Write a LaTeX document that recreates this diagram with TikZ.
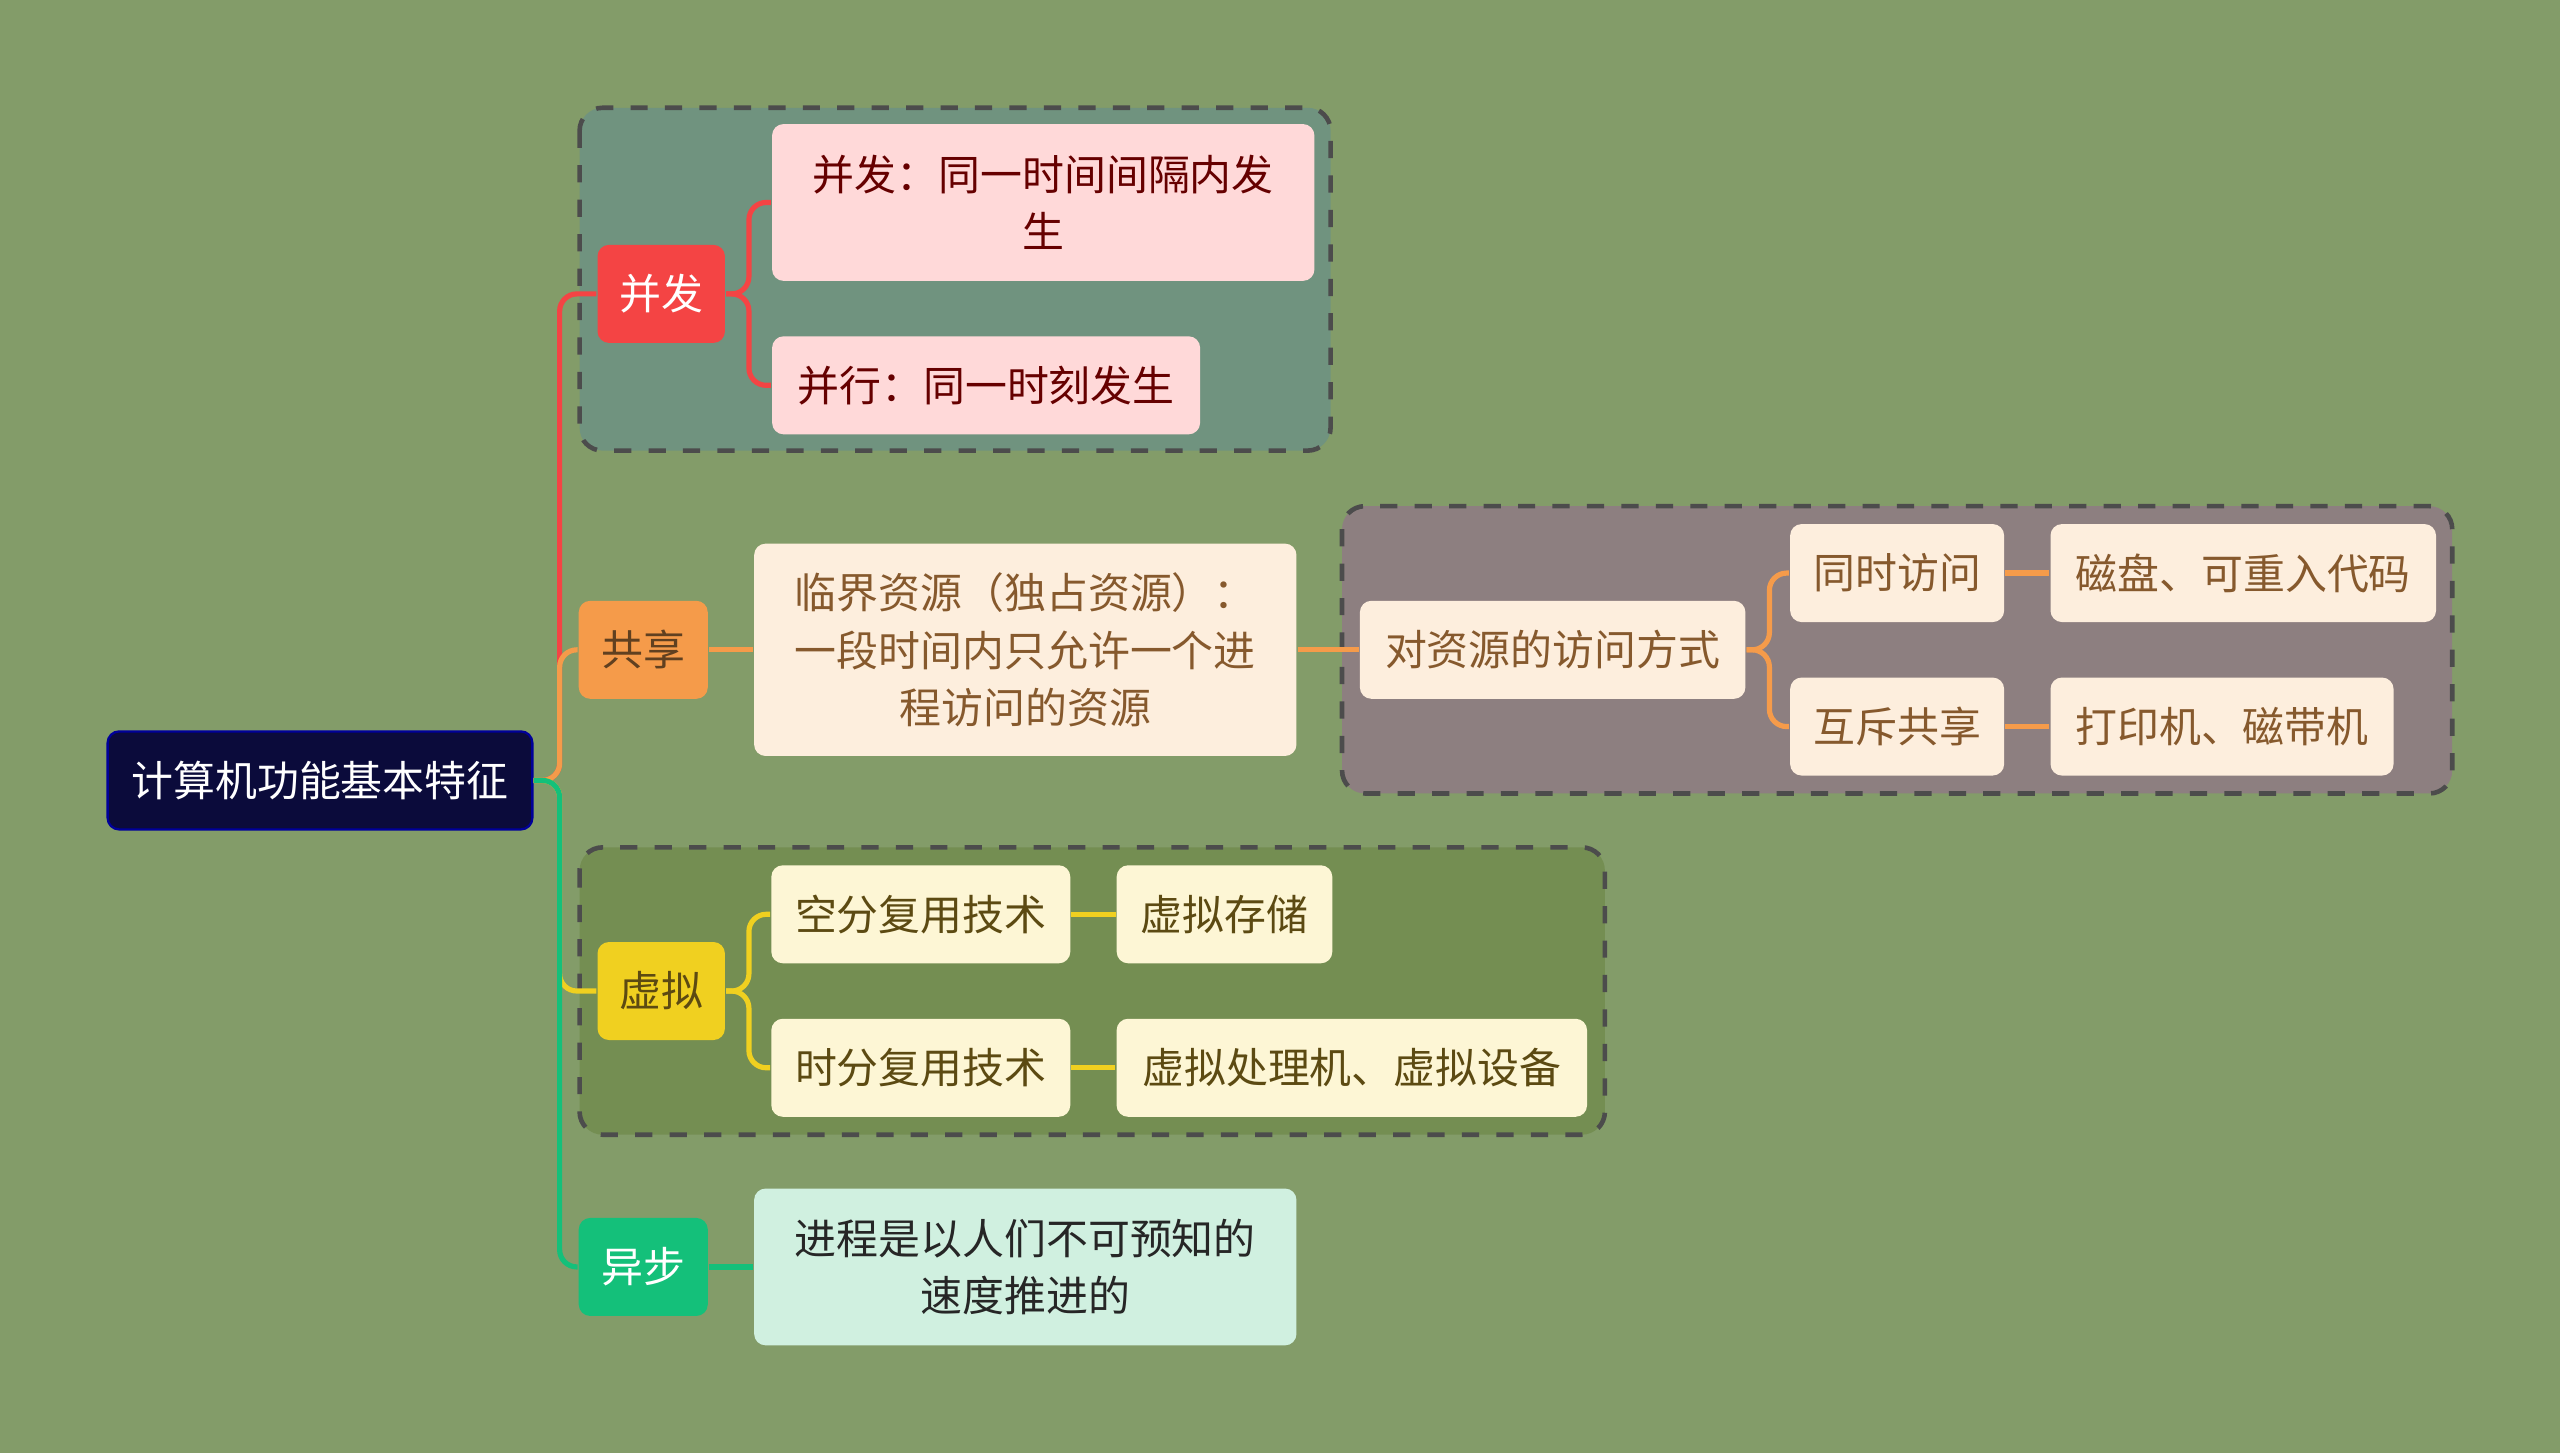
\documentclass[tikz,border=0pt]{standalone}
\usepackage{fontspec}
\setmainfont{Noto Sans CJK SC}
\usetikzlibrary{positioning}
\definecolor{bgc}{HTML}{839C69}
\definecolor{rootc}{HTML}{0B0B3B}
\definecolor{redc}{HTML}{F44444}
\definecolor{orac}{HTML}{F59B4A}
\definecolor{yelc}{HTML}{F0D020}
\definecolor{grnc}{HTML}{14C07A}
\definecolor{pinkc}{HTML}{FFD9D9}
\definecolor{creamc}{HTML}{FDEEDD}
\definecolor{lyelc}{HTML}{FDF6D5}
\definecolor{mintc}{HTML}{D0F0E0}
\definecolor{box1c}{HTML}{70937F}
\definecolor{box2c}{HTML}{8D7F80}
\definecolor{box3c}{HTML}{748E52}
\definecolor{olivetxt}{HTML}{5C4A12}
\begin{document}
\begin{tikzpicture}[x=0.01cm, y=-0.01cm,
        every node/.style={font=\fontsize{7.3pt}{10pt}\selectfont},
        topic/.style={rectangle, rounded corners=2pt, inner sep=0pt, minimum height=0.6cm, align=center},
        group/.style={draw=black!70, dashed, thick, rounded corners=4pt},
        link/.style={line width=0.9pt, rounded corners=3pt},
    ]
    \fill[bgc] (0,0) rectangle (1568,890);

    % groups
    \draw[group, fill=box1c] (355,66) rectangle (815,276);
    \draw[group, fill=box2c] (822,310) rectangle (1502,486);
    \draw[group, fill=box3c] (355,519) rectangle (983,695);

    \node (root) [topic, fill=rootc, draw=blue!60!black, text=white, minimum width=2.6cm] at (196,478) {计算机功能基本特征};

    \node (concur) [topic, fill=redc, text=white, minimum width=0.78cm] at (405,180) {并发};
    \node (concurDef) [topic, fill=pinkc, text=red!40!black, minimum width=3.32cm, minimum height=0.96cm] at (639,124) {并发：同一时间间隔内发\\生};
    \node (parallel) [topic, fill=pinkc, text=red!40!black, minimum width=2.62cm] at (604,236) {并行：同一时刻发生};

    \node (share) [topic, fill=orac, text=brown!50!black, minimum width=0.79cm] at (394,398) {共享};
    \node (critical) [topic, fill=creamc, text=brown!70!black, minimum width=3.32cm, minimum height=1.3cm] at (628,398) {临界资源（独占资源）：\\一段时间内只允许一个进\\程访问的资源};
    \node (access) [topic, fill=creamc, text=brown!70!black, minimum width=2.36cm] at (951,398) {对资源的访问方式};
    \node (simul) [topic, fill=creamc, text=brown!70!black, minimum width=1.31cm] at (1162,351) {同时访问};
    \node (disk) [topic, fill=creamc, text=brown!70!black, minimum width=2.36cm] at (1374,351) {磁盘、可重入代码};
    \node (mutex) [topic, fill=creamc, text=brown!70!black, minimum width=1.31cm] at (1162,445) {互斥共享};
    \node (printer) [topic, fill=creamc, text=brown!70!black, minimum width=2.1cm] at (1361,445) {打印机、磁带机};

    \node (virt) [topic, fill=yelc, text=olivetxt, minimum width=0.78cm] at (405,607) {虚拟};
    \node (space) [topic, fill=lyelc, text=olivetxt, minimum width=1.83cm] at (564,560) {空分复用技术};
    \node (vstore) [topic, fill=lyelc, text=olivetxt, minimum width=1.32cm] at (750,560) {虚拟存储};
    \node (time) [topic, fill=lyelc, text=olivetxt, minimum width=1.83cm] at (564,654) {时分复用技术};
    \node (vproc) [topic, fill=lyelc, text=olivetxt, minimum width=2.88cm] at (828,654) {虚拟处理机、虚拟设备};

    \node (async) [topic, fill=grnc, text=white, minimum width=0.79cm] at (394,776) {异步};
    \node (process) [topic, fill=mintc, text=black!85, minimum width=3.32cm, minimum height=0.96cm] at (628,776) {进程是以人们不可预知的\\速度推进的};

    % connectors
    \draw[link, redc] (root.east) -- ++(16,0) |- (concur.west);
    \draw[link, orac] (root.east) -- ++(16,0) |- (share.west);
    \draw[link, yelc] (root.east) -- ++(16,0) |- (virt.west);
    \draw[link, grnc] (root.east) -- ++(16,0) |- (async.west);

    \draw[link, redc] (concur.east) -- ++(14,0) |- (concurDef.west);
    \draw[link, redc] (concur.east) -- ++(14,0) |- (parallel.west);
    \draw[link, orac] (share.east) -- (critical.west);
    \draw[link, orac] (critical.east) -- (access.west);
    \draw[link, orac] (access.east) -- ++(14,0) |- (simul.west);
    \draw[link, orac] (access.east) -- ++(14,0) |- (mutex.west);
    \draw[link, orac] (simul.east) -- (disk.west);
    \draw[link, orac] (mutex.east) -- (printer.west);
    \draw[link, yelc] (virt.east) -- ++(14,0) |- (space.west);
    \draw[link, yelc] (virt.east) -- ++(14,0) |- (time.west);
    \draw[link, yelc] (space.east) -- (vstore.west);
    \draw[link, yelc] (time.east) -- (vproc.west);
    \draw[link, grnc] (async.east) -- (process.west);
\end{tikzpicture}
\end{document}
